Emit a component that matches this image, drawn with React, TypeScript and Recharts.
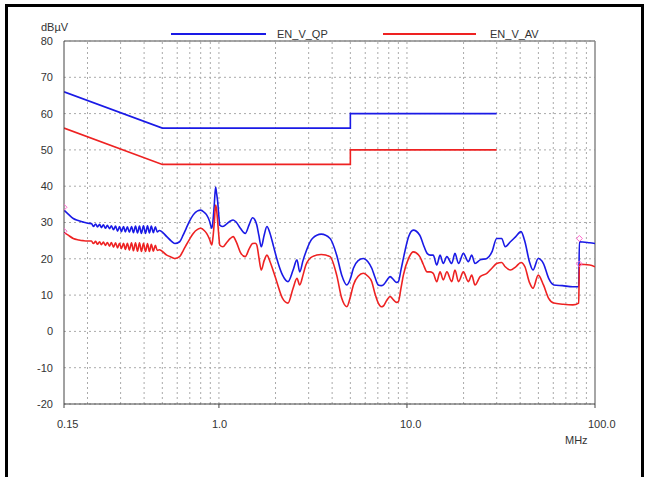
import {
	LineChart,
	Line,
	XAxis,
	YAxis,
	CartesianGrid,
	ReferenceLine,
	Scatter,
} from "recharts"

// limit lines (EN 55022 class B, conducted)
const limitFreq = [0.15, 0.5, 5, 5, 30]
const qpLimit = [66, 56, 56, 60, 60]
const avLimit = [56, 46, 46, 50, 50]

// measured scan, MHz / dBµV
const scanFreq = [
	0.15, 0.158, 0.168, 0.18, 0.19, 0.2,
	0.21, 0.215, 0.221, 0.226, 0.232, 0.237, 0.243, 0.249, 0.255, 0.262,
	0.268, 0.275, 0.282, 0.289, 0.296, 0.303, 0.311, 0.318, 0.326, 0.334,
	0.343, 0.351, 0.36, 0.369, 0.378, 0.387, 0.397, 0.407, 0.417, 0.427,
	0.437, 0.448, 0.459, 0.47, 0.482,
	0.528, 0.555, 0.583, 0.618, 0.645, 0.67, 0.7, 0.73, 0.77, 0.8, 0.835,
	0.86, 0.89, 0.917, 0.93, 0.945, 0.96, 0.972, 0.985, 1.0, 1.01, 1.05,
	1.1, 1.15, 1.19, 1.24, 1.3, 1.38, 1.45, 1.51, 1.56, 1.59, 1.63, 1.68,
	1.74, 1.8, 1.87, 1.95, 2.03, 2.18, 2.33, 2.48, 2.6, 2.69, 2.8, 2.9,
	3.14, 3.5, 3.9, 4.23, 4.5, 4.79, 5.0, 5.19, 5.5, 5.86, 6.2, 6.5, 6.75,
	7.04, 7.3, 7.49, 7.8, 8.13, 8.5, 8.8, 9.0, 9.3, 9.57, 10.2, 10.8, 11.7,
	12.2, 12.8, 13.3, 13.8, 14.4, 15.0, 15.6, 16.3, 17.3, 18.0, 18.8, 19.95,
	21.2, 22.1, 23.0, 24.5, 26.6, 28.3, 30.0, 31.9, 33.3, 35.5, 37.9, 40.4,
	42.4, 44.8, 46.8, 49.9, 53.2, 56.7, 60.4, 67.1, 76.2, 81.9, 82.6, 93.8,
	100,
]
const qpScan = [
	33.4, 32.3, 31.1, 30.5, 30.1, 29.8,
	29.7, 28.9, 29.6, 28.8, 29.5, 28.6, 29.4, 28.4, 29.2, 28.3,
	29.1, 28.0, 29.0, 27.6, 28.9, 27.5, 28.9, 27.4, 28.8, 27.3,
	28.9, 27.2, 29.0, 27.1, 29.0, 27.0, 29.1, 27.0, 29.1, 27.1,
	29.0, 27.2, 28.8, 27.4, 27.8,
	26.1, 25.0, 24.2, 24.7, 26.5, 28.4, 30.5, 32.1, 33.2, 33.4, 32.8,
	32.1, 30.5, 28.4, 30.5, 35.0, 39.8, 38.0, 35.7, 31.5, 29.3, 28.9,
	29.6, 30.4, 30.7, 30.0, 28.4, 27.0, 29.5, 31.3, 30.5, 29.3, 26.5, 23.3,
	26.5, 28.9, 27.0, 23.5, 20.1, 15.5, 13.7, 16.9, 19.7, 16.4, 19.5, 21.9,
	25.6, 26.8, 25.6, 21.0, 15.5, 12.8, 14.5, 17.4, 19.5, 20.1, 19.2, 17.4, 15.0,
	12.8, 12.6, 12.8, 14.0, 15.1, 14.2, 13.5, 13.7, 17.0, 20.1, 26.1, 27.9, 26.5,
	24.0, 21.5, 21.0, 21.0, 18.3, 21.0, 18.7, 20.6, 18.7, 21.5, 18.7, 21.5,
	19.2, 21.0, 18.7, 19.7, 20.1, 21.9, 25.6, 25.6, 23.3, 24.7, 26.1, 27.5,
	24.7, 19.2, 16.9, 20.1, 18.7, 14.6, 12.8, 12.6, 12.3, 12.3, 24.7, 24.4,
	24.2,
]
const avScan = [
	27.3, 26.5, 25.6, 25.2, 25.0, 24.9,
	24.9, 24.2, 24.8, 24.0, 24.7, 23.9, 24.6, 23.7, 24.5, 23.5,
	24.5, 23.2, 24.4, 23.0, 24.3, 22.8, 24.3, 22.6, 24.3, 22.4,
	24.4, 22.2, 24.4, 22.1, 24.4, 22.0, 24.3, 22.0, 24.2, 22.0,
	24.0, 22.1, 23.7, 22.3, 22.5,
	21.0, 20.5, 20.1, 20.6, 22.2, 23.8, 25.5, 27.0, 28.1, 28.4, 27.8,
	27.0, 25.5, 23.8, 26.0, 30.0, 34.8, 33.5, 30.2, 26.0, 23.8, 23.3,
	24.5, 25.6, 26.1, 24.5, 21.8, 20.6, 22.8, 24.2, 24.3, 23.8, 20.5, 16.9,
	19.5, 21.0, 19.2, 16.5, 13.7, 9.1, 7.8, 11.9, 14.6, 12.8, 15.5, 18.3,
	20.6, 21.2, 20.6, 15.5, 9.1, 6.8, 9.5, 12.8, 15.2, 16.0, 15.2, 13.7, 10.5,
	7.8, 6.8, 7.0, 8.5, 9.6, 8.6, 8.0, 8.2, 12.0, 15.5, 20.1, 21.9, 20.6,
	18.5, 16.4, 16.4, 16.0, 13.7, 16.4, 14.2, 16.4, 13.7, 16.9, 13.7, 16.4,
	13.7, 15.5, 12.8, 15.1, 16.0, 17.4, 18.7, 19.0, 17.8, 16.9, 17.8, 19.0,
	17.8, 13.5, 11.9, 15.5, 12.8, 9.1, 7.8, 7.5, 7.3, 7.8, 18.5, 18.3,
	17.8,
]

// final measurement markers
const markerFreq = [0.15, 0.15, 82.6, 82.6]
const markerLevel = [34.2, 27.6, 25.6, 18.6]

const xTicks = [0.15, 1, 10, 100]
const xTickLabels = ["0.15", "1.0", "10.0", "100.0"]
const yTicks = [-20, -10, 0, 10, 20, 30, 40, 50, 60, 70, 80]
const gridFreqs = [
	0.2, 0.3, 0.4, 0.5, 0.6, 0.7, 0.8, 0.9, 1, 2, 3, 4, 5, 6, 7, 8, 9, 10, 20,
	30, 40, 50, 60, 70, 80, 90,
]

const qpLimitData = limitFreq.map((f, i) => ({ f, v: qpLimit[i] }))
const avLimitData = limitFreq.map((f, i) => ({ f, v: avLimit[i] }))
const qpData = scanFreq.map((f, i) => ({ f, v: qpScan[i] }))
const avData = scanFreq.map((f, i) => ({ f, v: avScan[i] }))
const markerData = markerFreq.map((f, i) => ({ f, v: markerLevel[i] }))

const FONT = "'Liberation Sans', Arial, sans-serif"
const BLUE = "#1a1ae6"
const RED = "#ee2222"

function XTick(props: any) {
	const { x, y, payload } = props
	const idx = xTicks.indexOf(payload.value)
	return (
		<text
			x={x - 7}
			y={y}
			dy="0.71em"
			textAnchor="start"
			fontFamily={FONT}
			fontSize={11}
			fill="#333"
		>
			{xTickLabels[idx] ?? payload.value}
		</text>
	)
}

function Diamond(props: any) {
	const { cx, cy } = props
	if (cx == null || cy == null) return null
	return (
		<path
			d={`M${cx - 3},${cy} L${cx},${cy - 3} L${cx + 3},${cy} L${cx},${cy + 3} Z`}
			fill="none"
			stroke="#ff66cc"
			strokeWidth={1}
		/>
	)
}

export default function App() {
	const textStyle = {
		position: "absolute" as const,
		fontFamily: FONT,
		fontSize: 11,
		color: "#333",
		lineHeight: "12px",
		whiteSpace: "nowrap" as const,
	}
	return (
		<div
			style={{
				position: "absolute",
				left: 0,
				top: 0,
				width: 647,
				height: 477,
				background: "#fff",
				overflow: "hidden",
			}}
		>
			<div
				style={{
					position: "absolute",
					left: 5,
					top: 4,
					width: 633,
					height: 490,
					borderLeft: "3px solid #000",
					borderTop: "3px solid #000",
					borderRight: "3px solid #000",
				}}
			/>
			<div style={{ ...textStyle, left: 41, top: 21 }}>dBµV</div>
			<div style={{ ...textStyle, left: 565, top: 434 }}>MHz</div>
			<div
				style={{
					position: "absolute",
					left: 171,
					top: 33,
					width: 95,
					height: 2,
					background: BLUE,
				}}
			/>
			<div style={{ ...textStyle, left: 277, top: 28 }}>EN_V_QP</div>
			<div
				style={{
					position: "absolute",
					left: 383,
					top: 33,
					width: 93,
					height: 2,
					background: RED,
				}}
			/>
			<div style={{ ...textStyle, left: 490, top: 28 }}>EN_V_AV</div>
			<div style={{ position: "absolute", left: 0, top: 0 }}>
				<LineChart
					width={647}
					height={477}
					margin={{ top: 41, right: 52, bottom: 43, left: 4 }}
				>
					<CartesianGrid
						vertical={false}
						stroke="#aaa"
						strokeDasharray="2 3"
					/>
					{gridFreqs.map((f) => (
						<ReferenceLine
							key={f}
							x={f}
							stroke="#aaa"
							strokeDasharray="2 3"
						/>
					))}
					<ReferenceLine y={80} stroke="#888" strokeWidth={1.5} />
					<ReferenceLine x={100} stroke="#888" strokeWidth={1.5} />
					<XAxis
						dataKey="f"
						type="number"
						scale="log"
						domain={[0.15, 100]}
						allowDataOverflow
						ticks={xTicks}
						height={30}
						stroke="#444"
						tickSize={4}
						tickMargin={12}
						tick={<XTick />}
					/>
					<YAxis
						type="number"
						domain={[-20, 80]}
						ticks={yTicks}
						width={60}
						stroke="#444"
						tickLine={false}
						tickSize={0}
						tickMargin={11}
						tick={{ fontFamily: FONT, fontSize: 11, fill: "#333" }}
					/>
					<Line
						data={qpLimitData}
						dataKey="v"
						stroke={BLUE}
						strokeWidth={1.6}
						dot={false}
						type="linear"
						isAnimationActive={false}
					/>
					<Line
						data={avLimitData}
						dataKey="v"
						stroke={RED}
						strokeWidth={1.6}
						dot={false}
						type="linear"
						isAnimationActive={false}
					/>
					<Line
						data={qpData}
						dataKey="v"
						stroke={BLUE}
						strokeWidth={1.6}
						dot={false}
						type="monotone"
						isAnimationActive={false}
					/>
					<Line
						data={avData}
						dataKey="v"
						stroke={RED}
						strokeWidth={1.6}
						dot={false}
						type="monotone"
						isAnimationActive={false}
					/>
					<Scatter
						data={markerData}
						dataKey="v"
						shape={<Diamond />}
						isAnimationActive={false}
					/>
				</LineChart>
			</div>
		</div>
	)
}
